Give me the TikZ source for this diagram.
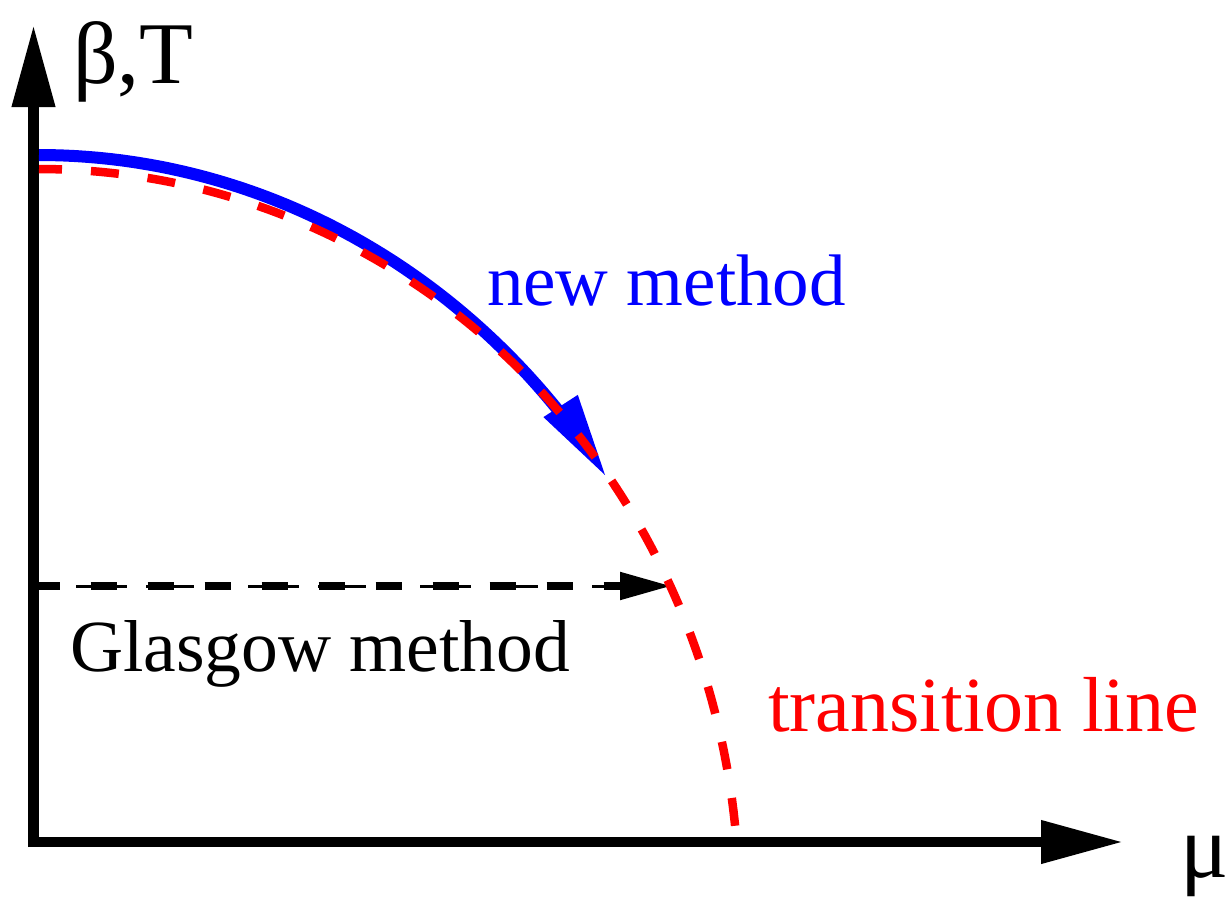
\documentclass[tikz,border=0pt]{standalone}
\usepackage{fontspec}
\setmainfont{Liberation Serif}
\usetikzlibrary{arrows.meta}
\tikzset{
  axis/.style={line width=10.5pt,-{Triangle[length=82pt,width=41pt]}},
  lbl/.style={anchor=base west,inner sep=0pt,outer sep=0pt},
  redline/.style={red,line width=8.5pt,dash pattern=on 28pt off 29pt,dash phase=5pt},
  blueline/.style={blue,line width=12pt},
}
\begin{document}
\begin{tikzpicture}[x=1pt,y=-1pt]
\useasboundingbox (0,0) rectangle (1231,899);
% axes
\coordinate (o1) at (33.5,847);
\coordinate (ytip) at (33.5,25);
\coordinate (o2) at (28,842);
\coordinate (xtip) at (1123,842);
\draw[axis] (o1) -- (ytip);
\draw[axis] (o2) -- (xtip);
% Glasgow arrow
\coordinate (gs) at (39,586);
\coordinate (gt) at (672,586);
\coordinate (gb) at (620,586);
\draw[line width=3pt,dash pattern=on 51pt off 19pt on 48pt off 54pt,dash phase=135pt] (gs) -- (gb);
\draw[line width=8pt,dash pattern=on 26.5pt off 30.5pt,dash phase=5.5pt,-{Triangle[length=52pt,width=26pt]}] (gs) -- (gt);
% blue new method curve
\draw[blueline] plot[domain=-90:-38,samples=120,smooth] ({39+690*cos(\x)},{903+748*sin(\x)});
\coordinate (btip) at (605,475);
\coordinate (bc1) at (543.4,417.1);
\coordinate (bc2) at (577.8,394.9);
\fill[blue] (btip) -- (bc1) -- (bc2) -- cycle;
% red transition line
\draw[redline] plot[domain=-90:-5.86,samples=200,smooth] ({39+700*cos(\x)},{903+734*sin(\x)});
% labels
\node[lbl,font=\fontsize{88}{90}\selectfont] (bt) at (73,83) {β,T};
\node[lbl,font=\fontsize{90}{92}\selectfont] (mu) at (1180,877) {μ};
\node[lbl,blue,font=\fontsize{73}{76}\selectfont] (nm) at (487,305) {new method};
\node[lbl,font=\fontsize{73.5}{76}\selectfont] (gm) at (70,671) {Glasgow method};
\node[lbl,red,font=\fontsize{78}{80}\selectfont] (tl) at (768,731) {transition line};
\end{tikzpicture}
\end{document}
